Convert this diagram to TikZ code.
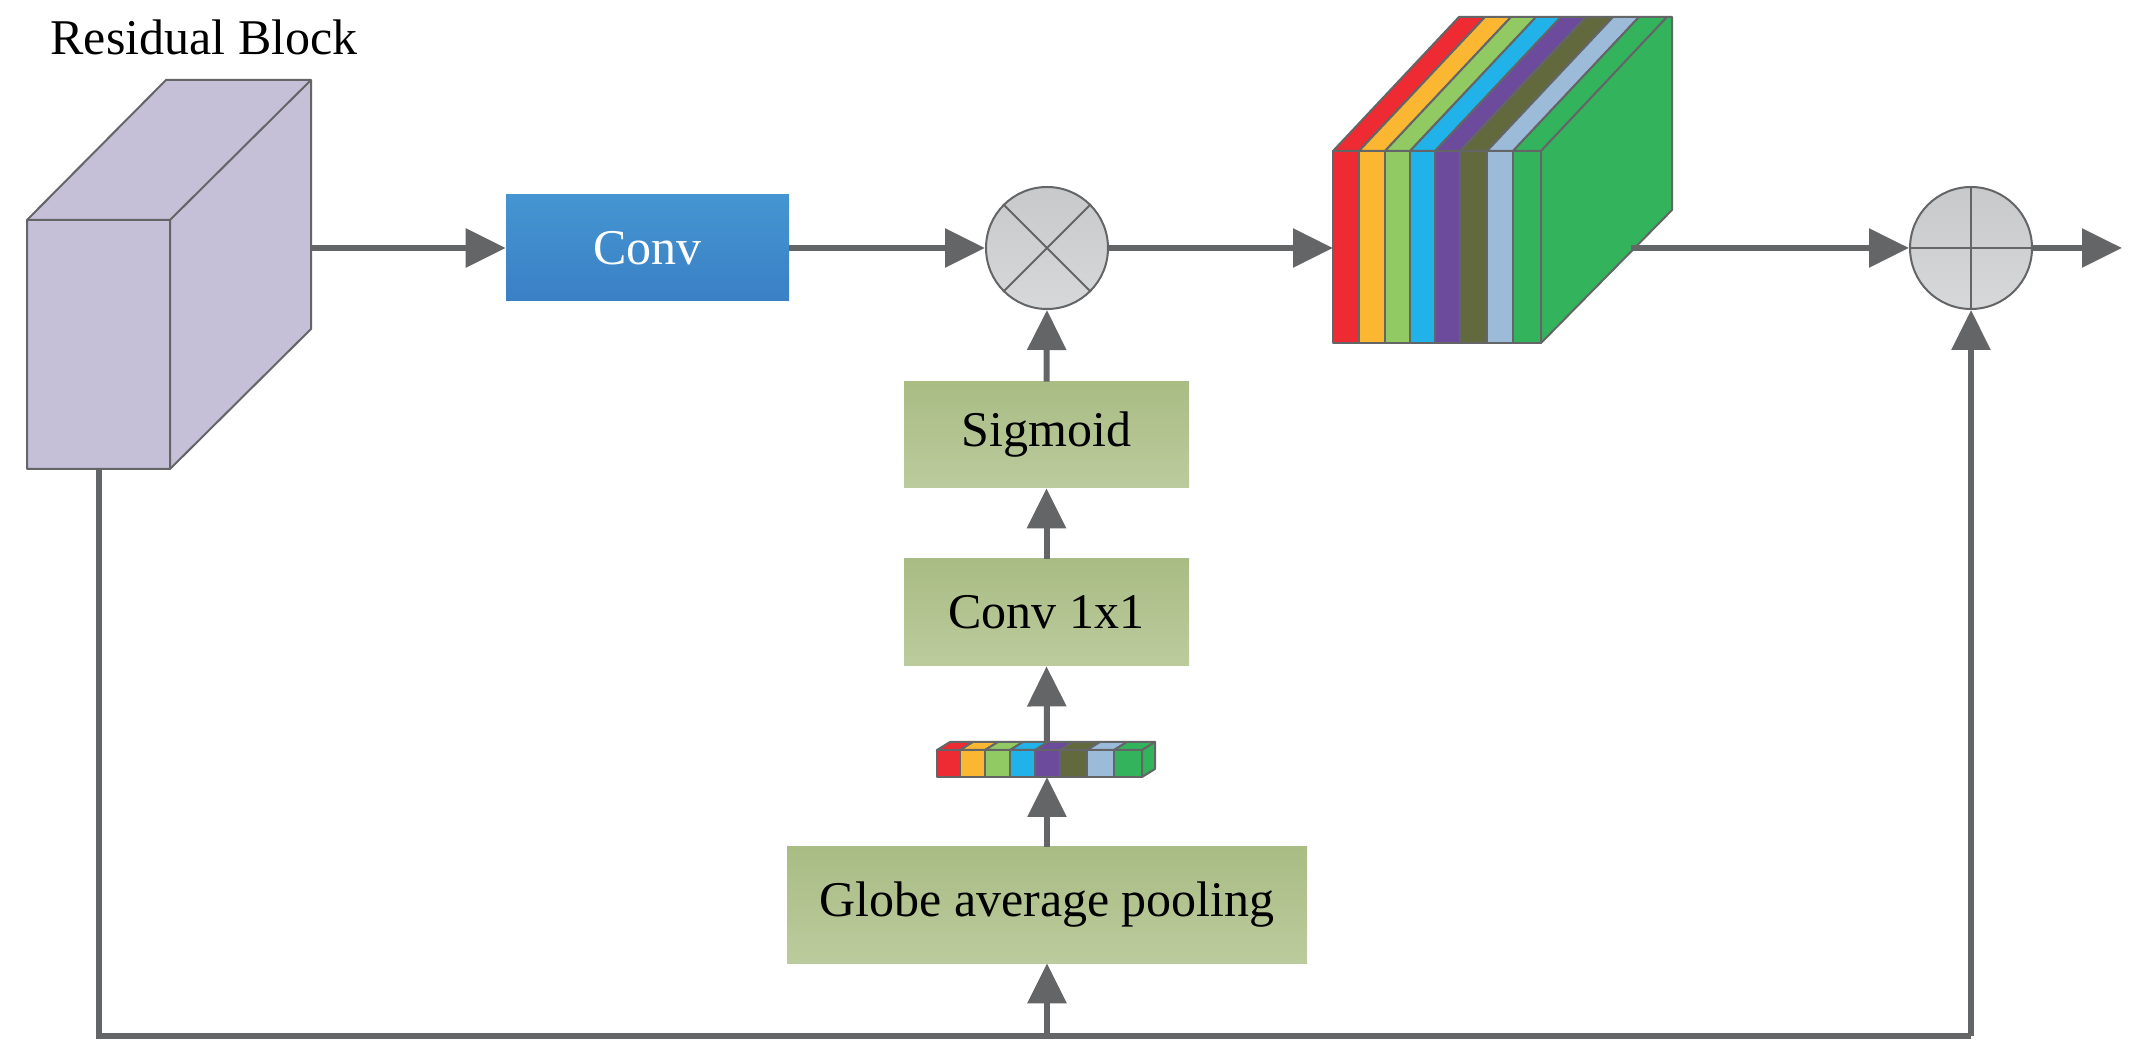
\documentclass[tikz,border=0pt]{standalone}
\usepackage{fontspec}
\setmainfont{Liberation Serif}
\usetikzlibrary{arrows.meta}
\definecolor{edge}{HTML}{646567}
\definecolor{c1}{HTML}{EE2A32}\definecolor{c2}{HTML}{FBB731}\definecolor{c3}{HTML}{91CA63}
\definecolor{c4}{HTML}{20B2E8}\definecolor{c5}{HTML}{6C4A9C}\definecolor{c6}{HTML}{61693D}
\definecolor{c7}{HTML}{9BBBD9}\definecolor{c8}{HTML}{33B45C}
\begin{document}
\begin{tikzpicture}[x=0.5pt,y=-0.5pt,
  every node/.style={font=\fontsize{25}{29}\selectfont},
  gbox/.style={inner sep=0,top color={rgb,255:red,169;green,188;blue,132},bottom color={rgb,255:red,188;green,203;blue,157}},
  op/.style={circle,draw=edge,line width=1pt,minimum size=61pt,inner sep=0,top color={rgb,255:red,200;green,201;blue,203},bottom color={rgb,255:red,215;green,216;blue,218}},
  arr/.style={draw=edge,line width=3pt,-{Triangle[length=20pt,width=19pt]}},
  ln/.style={draw=edge,line width=3pt},
  face/.style={draw=edge,line width=1pt,line join=round}]
\useasboundingbox (0,0) rectangle (2132,1052);
\fill[white] (0,0) rectangle (2132,1052);
% residual block
\filldraw[face,fill={rgb,255:red,197;green,191;blue,215}] (27,220)--(166,80)--(311,80)--(311,329)--(170,469)--(27,469)--cycle;
\draw[face] (27,220)--(170,220)--(311,80) (170,220)--(170,469);
\node (rbl) at (204,37) {Residual Block};
\coordinate (rbout) at (311,248);
\coordinate (rbbot) at (99,469);
% Conv
\node[inner sep=0,minimum width=141.5pt,minimum height=53pt,top color={rgb,255:red,69;green,149;blue,210},bottom color={rgb,255:red,58;green,128;blue,197},text=white] (conv) at (647.5,248) {Conv};
\node[op] (mul) at (1047,248) {};
\draw[edge,line width=1pt] (mul.north west)--(mul.south east) (mul.north east)--(mul.south west);
\node[gbox,minimum width=142.5pt,minimum height=53pt] (sig) at (1046.5,435) {Sigmoid};
\node[gbox,minimum width=142.5pt,minimum height=53.5pt] (c11) at (1046.5,612.5) {Conv 1x1};
\node[gbox,minimum width=260pt,minimum height=58pt] (gap) at (1047,905) {Globe average pooling};
\node[op] (add) at (1971,248) {};
\draw[edge,line width=1pt] (add.north)--(add.south) (add.west)--(add.east);
% feature block
\foreach \a/\b/\c in {1333/1359/c1,1359/1385/c2,1385/1410/c3,1410/1435/c4,1435/1460/c5,1460/1487/c6,1487/1513/c7,1513/1541/c8}{
  \filldraw[face,fill=\c] (\a,151)--(\a+126,17)--(\b+126,17)--(\b,151)--cycle;
  \filldraw[face,fill=\c] (\a,151) rectangle (\b,343);}
\filldraw[face,fill=c8] (1541,151)--(1667,17)--(1672,17)--(1672,210)--(1541,343)--cycle;
\coordinate (fbin) at (1333,248);
\coordinate (fbout) at (1631,248);
% vector
\foreach \a/\b/\c in {937/960/c1,960/985/c2,985/1010/c3,1010/1035/c4,1035/1060/c5,1060/1087/c6,1087/1114/c7,1114/1142/c8}{
  \filldraw[face,fill=\c] (\a,750)--(\a+13,742)--(\b+13,742)--(\b,750)--cycle;
  \filldraw[face,fill=\c] (\a,750) rectangle (\b,777);}
\filldraw[face,fill=c8] (1142,750)--(1155,742)--(1155,769)--(1142,777)--cycle;
\coordinate (vtop) at (1047,742);
\coordinate (vbot) at (1047,777);
% connectors
\coordinate (out) at (2122,248);
\coordinate (bl) at (99,1036);
\coordinate (bm) at (1047,1036);
\coordinate (br) at (1971,1036);
\draw[arr] (rbout)--(conv.west);
\draw[arr] (conv.east)--(mul.west);
\draw[arr] (mul.east)--(fbin);
\draw[arr] (fbout)--(add.west);
\draw[arr] (add.east)--(out);
\draw[arr] (sig.north)--(mul.south);
\draw[arr] (c11.north)--(sig.south);
\draw[arr] (vtop)--(c11.south);
\draw[arr] (gap.north)--(vbot);
\draw[ln] (rbbot)--(bl)--(br);
\draw[arr] (bm)--(gap.south);
\draw[arr] (br)--(add.south);
\end{tikzpicture}
\end{document}
